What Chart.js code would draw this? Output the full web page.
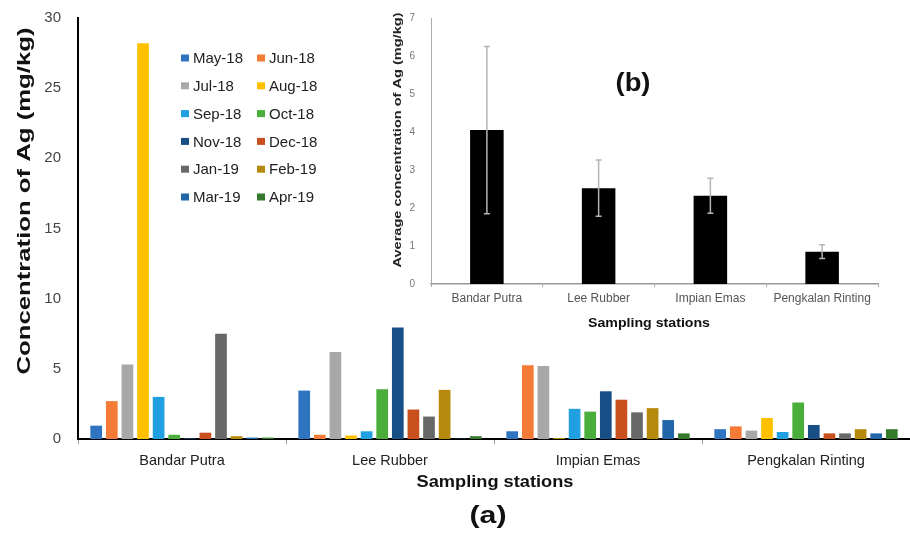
<!DOCTYPE html>
<html lang="en">
<head>
    <meta charset="UTF-8">
    <title>Concentration of Ag by sampling station</title>
    <script src="https://cdn.jsdelivr.net/npm/chart.js@4"></script>
    <style>
        body { margin: 0; background: #fff; }
        #wrap { position: relative; width: 910px; height: 534px; overflow: hidden; }
        #mainChart { position: absolute; left: 0; top: 0; }
        #insetChart { position: absolute; left: 380px; top: 0; }
    </style>
</head>
<body>
    <div id="wrap">
        <canvas id="mainChart" width="910" height="534"></canvas>
        <canvas id="insetChart" width="530" height="334"></canvas>
    </div>

    <script>
        // Data
        const stations = ['Bandar Putra', 'Lee Rubber', 'Impian Emas', 'Pengkalan Rinting'];
        const months = ['May-18', 'Jun-18', 'Jul-18', 'Aug-18', 'Sep-18', 'Oct-18',
                        'Nov-18', 'Dec-18', 'Jan-19', 'Feb-19', 'Mar-19', 'Apr-19'];

        // monthly Ag (mg/kg), May-18 .. Apr-19, per station
        const bandarPutra      = [0.95, 2.7, 5.3, 28.2, 3.0, 0.3, 0.05, 0.45, 7.5, 0.2, 0.1, 0.1];
        const leeRubber        = [3.45, 0.3, 6.2, 0.25, 0.55, 3.55, 7.95, 2.1, 1.6, 3.5, 0.02, 0.2];
        const impianEmas       = [0.55, 5.25, 5.2, 0.05, 2.15, 1.95, 3.4, 2.8, 1.9, 2.2, 1.35, 0.4];
        const pengkalanRinting = [0.7, 0.9, 0.6, 1.5, 0.5, 2.6, 1.0, 0.4, 0.4, 0.7, 0.4, 0.7];

        // inset (b): average and standard deviation
        const avgAg = [4.05, 2.52, 2.32, 0.85];
        const sdAg  = [2.2, 0.74, 0.46, 0.18];

        const yTicksMain = [0, 5, 10, 15, 20, 25, 30];
        const yTicksInset = [0, 1, 2, 3, 4, 5, 6, 7];

        const monthColors = ['#2f74c0', '#f47b36', '#a8a8a8', '#ffc000', '#20a0e0', '#4aae3a',
                             '#174e86', '#c8501c', '#686868', '#b58a0c', '#2166a8', '#357a2c'];

        const FONT = "'Liberation Sans', Arial, sans-serif";

        // draw a text squeezed/stretched to a given length
        function drawFitText(ctx, text, x, y, font, color, length, vertical) {
            ctx.save();
            ctx.font = font;
            ctx.fillStyle = color;
            ctx.textAlign = 'center';
            ctx.textBaseline = 'middle';
            ctx.translate(x, y);
            if (vertical) ctx.rotate(-Math.PI / 2);
            const w = ctx.measureText(text).width;
            ctx.scale(length / w, 1);
            ctx.fillText(text, 0, 0);
            ctx.restore();
        }

        const stationRows = [bandarPutra, leeRubber, impianEmas, pengkalanRinting];
        const monthDatasets = months.map((m, i) => ({
            label: m,
            data: stationRows.map(row => row[i]),
            backgroundColor: monthColors[i],
            barPercentage: 0.75,
            categoryPercentage: 0.9
        }));

        // legend + titles for chart (a)
        const mainDecor = {
            id: 'mainDecor',
            afterDraw(chart) {
                const ctx = chart.ctx;
                ctx.save();
                ctx.font = '15px ' + FONT;
                ctx.textBaseline = 'middle';
                ctx.textAlign = 'left';
                chart.data.datasets.forEach((ds, i) => {
                    const x = i % 2 === 0 ? 181 : 257;
                    const y = 58 + Math.floor(i / 2) * 27.8;
                    ctx.fillStyle = ds.backgroundColor;
                    ctx.fillRect(x, y - 3.5, 8, 7);
                    ctx.fillStyle = '#222';
                    ctx.fillText(ds.label, x + 12, y + 1);
                });
                ctx.restore();

                drawFitText(ctx, 'Concentration of Ag (mg/kg)', 25, 201, 'bold 19px ' + FONT, '#111', 347, true);
                drawFitText(ctx, 'Sampling stations', 495, 482, 'bold 17px ' + FONT, '#111', 157, false);
                drawFitText(ctx, '(a)', 488, 517, 'bold 23px ' + FONT, '#111', 37, false);
            }
        };

        new Chart(document.getElementById('mainChart'), {
            type: 'bar',
            data: { labels: stations, datasets: monthDatasets },
            options: {
                responsive: false,
                animation: false,
                devicePixelRatio: 1,
                layout: { padding: { top: 12, right: 0, left: 0, bottom: 0 } },
                plugins: { legend: { display: false }, tooltip: { enabled: false } },
                scales: {
                    x: {
                        grid: { display: true, drawOnChartArea: false, offset: true, tickLength: 5, color: '#999' },
                        border: { display: true, color: '#000', width: 2 },
                        ticks: { font: { family: FONT, size: 14.5 }, color: '#222', padding: 8, maxRotation: 0 },
                        afterFit: scale => { scale.height = 95; }
                    },
                    y: {
                        min: 0,
                        max: 30,
                        afterBuildTicks: scale => { scale.ticks = yTicksMain.map(v => ({ value: v })); },
                        grid: { display: false },
                        border: { display: true, color: '#000', width: 2 },
                        ticks: { font: { family: FONT, size: 15 }, color: '#444', padding: 9 },
                        afterFit: scale => { scale.width = 78; }
                    }
                }
            },
            plugins: [mainDecor]
        });

        // error bars and titles for inset (b)
        const insetDecor = {
            id: 'insetDecor',
            afterDatasetsDraw(chart) {
                const ctx = chart.ctx;
                const y = chart.scales.y;
                const meta = chart.getDatasetMeta(0);
                ctx.save();
                ctx.strokeStyle = '#b4b4b4';
                ctx.lineWidth = 1.5;
                meta.data.forEach((bar, i) => {
                    const top = y.getPixelForValue(avgAg[i] + sdAg[i]);
                    const bot = y.getPixelForValue(avgAg[i] - sdAg[i]);
                    ctx.beginPath();
                    ctx.moveTo(bar.x, top);
                    ctx.lineTo(bar.x, bot);
                    ctx.moveTo(bar.x - 3, top);
                    ctx.lineTo(bar.x + 3, top);
                    ctx.moveTo(bar.x - 3, bot);
                    ctx.lineTo(bar.x + 3, bot);
                    ctx.stroke();
                });
                ctx.restore();
            },
            afterDraw(chart) {
                const ctx = chart.ctx;
                drawFitText(ctx, 'Average concentration of Ag (mg/kg)', 18, 140, 'bold 11px ' + FONT, '#222', 255, true);
                drawFitText(ctx, 'Sampling stations', 269, 323, 'bold 13px ' + FONT, '#111', 122, false);
                drawFitText(ctx, '(b)', 253, 84, 'bold 26px ' + FONT, '#111', 35, false);
            }
        };

        new Chart(document.getElementById('insetChart'), {
            type: 'bar',
            data: {
                labels: stations,
                datasets: [{
                    label: 'Average Ag',
                    data: avgAg,
                    backgroundColor: '#000',
                    barPercentage: 0.3,
                    categoryPercentage: 1
                }]
            },
            options: {
                responsive: false,
                animation: false,
                devicePixelRatio: 1,
                layout: { padding: { top: 18, right: 32, left: 0, bottom: 0 } },
                plugins: { legend: { display: false }, tooltip: { enabled: false } },
                scales: {
                    x: {
                        grid: { display: true, drawOnChartArea: false, offset: true, tickLength: 3, color: '#aaa' },
                        border: { display: true, color: '#999', width: 1.5 },
                        ticks: { font: { family: FONT, size: 12 }, color: '#555', padding: 4, maxRotation: 0 },
                        afterFit: scale => { scale.height = 50; }
                    },
                    y: {
                        min: 0,
                        max: 7,
                        afterBuildTicks: scale => { scale.ticks = yTicksInset.map(v => ({ value: v })); },
                        grid: { display: false },
                        border: { display: true, color: '#aaa', width: 1 },
                        ticks: { font: { family: FONT, size: 10 }, color: '#777', padding: 8 },
                        afterFit: scale => { scale.width = 51; }
                    }
                }
            },
            plugins: [insetDecor]
        });
    </script>
</body>
</html>
